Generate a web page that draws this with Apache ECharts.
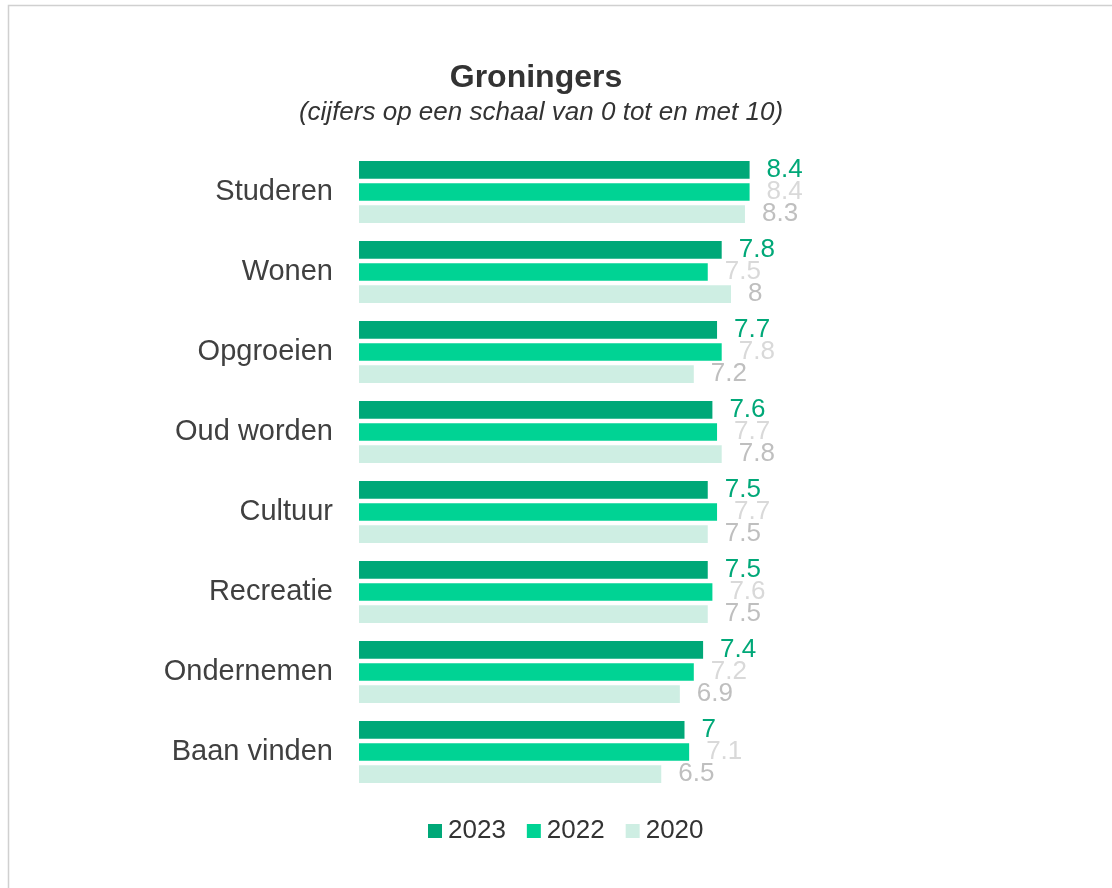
<!DOCTYPE html>
<html><head><meta charset="utf-8">
<script src="https://cdn.jsdelivr.net/npm/echarts@6/dist/echarts.min.js"></script>
<style>html,body{margin:0;padding:0;background:#fff}#c{width:1112px;height:888px}</style>
</head><body><div id="c"></div>
<script>
const categories = ["Studeren","Wonen","Opgroeien","Oud worden","Cultuur","Recreatie","Ondernemen","Baan vinden"];
const v2023 = [8.4,7.8,7.7,7.6,7.5,7.5,7.4,7];
const v2022 = [8.4,7.5,7.8,7.7,7.7,7.6,7.2,7.1];
const v2020 = [8.3,8,7.2,7.8,7.5,7.5,6.9,6.5];
const seriesNames = ["2023","2022","2020"];
const colors = ["#00A878","#00D394","#CEEEE3"];
const labelColors = ["#00A878","#D9D9D9","#BFBFBF"];
const F = "'Liberation Sans', Arial, sans-serif";
const chart = echarts.init(document.getElementById('c'));
const vals = [v2023, v2022, v2020];
chart.setOption({
  animation:false,
  backgroundColor:'#fff',
  graphic:[{type:'rect',shape:{x:8.5,y:5.5,width:1200,height:1000},style:{fill:'none',stroke:'#D0D0D0',lineWidth:1.5}}],
  title:[
    {text:'Groningers',left:536,textAlign:'center',top:62,padding:0,
      textStyle:{fontFamily:F,fontSize:32,fontWeight:'bold',color:'#333'}},
    {text:'(cijfers op een schaal van 0 tot en met 10)',left:541,textAlign:'center',top:100,padding:0,
      textStyle:{fontFamily:F,fontSize:26,fontStyle:'italic',fontWeight:'normal',color:'#333'}}
  ],
  legend:{top:813,left:423,itemWidth:14,itemHeight:14,itemGap:21,icon:'rect',
    textStyle:{fontFamily:F,fontSize:26,color:'#333',padding:[0,0,0,1]},data:seriesNames},
  grid:{left:359,right:288,top:152,height:640,containLabel:false},
  xAxis:{type:'value',min:0,max:10,show:false},
  yAxis:{type:'category',data:categories,inverse:true,axisLine:{show:false},axisTick:{show:false},
    axisLabel:{fontFamily:F,fontSize:29,color:'#404040',margin:26}},
  series: vals.map((d,i)=>({name:seriesNames[i],type:'bar',data:d,barWidth:17.7,barGap:'25%',
    itemStyle:{color:colors[i]},
    label:{show:true,position:'right',distance:17,fontFamily:F,fontSize:26,color:labelColors[i]}}))
});
</script></body></html>
